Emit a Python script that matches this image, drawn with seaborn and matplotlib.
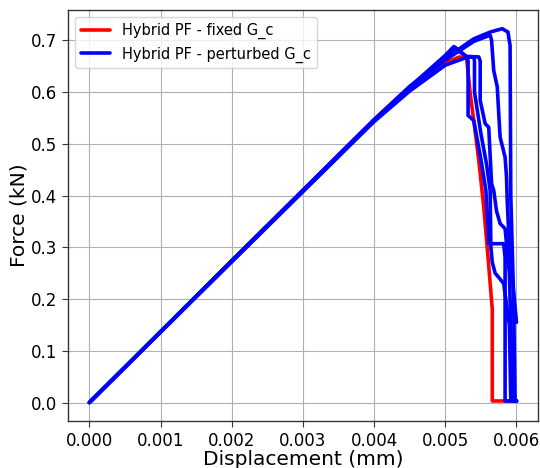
import matplotlib
matplotlib.use("Agg")
import matplotlib.pyplot as plt
import seaborn as sns
import pandas as pd

# ---- data (displacement in mm, force in kN) ----
red_x = [0, 0.002, 0.004, 0.0045, 0.005, 0.0052, 0.0053, 0.00535, 0.0054,
         0.00547, 0.00554, 0.0056, 0.00565, 0.00566, 0.00566, 0.006]
red_y = [0, 0.273, 0.545, 0.607, 0.657, 0.668, 0.665, 0.597, 0.545,
         0.468, 0.378, 0.281, 0.197, 0.18, 0.003, 0.003]

b1_x = [0, 0.002, 0.004, 0.0045, 0.005, 0.0054, 0.00563, 0.0058, 0.00588,
        0.00591, 0.00592, 0.00596, 0.00598, 0.006]
b1_y = [0, 0.274, 0.547, 0.611, 0.665, 0.703, 0.716, 0.7225, 0.716,
        0.69, 0.40, 0.20, 0.003, 0.003]

b2_x = [0, 0.002, 0.004, 0.0045, 0.005, 0.0054, 0.00563, 0.00565, 0.00568,
        0.00573, 0.00575, 0.00577, 0.00584, 0.00586, 0.00587, 0.0059, 0.006]
b2_y = [0, 0.274, 0.546, 0.609, 0.662, 0.698, 0.71, 0.70, 0.642,
        0.61, 0.56, 0.513, 0.474, 0.436, 0.39, 0.30, 0.155]

b3_x = [0, 0.002, 0.004, 0.0045, 0.005, 0.00512, 0.0052, 0.0053, 0.00532,
        0.00532, 0.0054, 0.0055, 0.00557, 0.0056, 0.00561, 0.00582, 0.00584,
        0.00584, 0.006]
b3_y = [0, 0.274, 0.546, 0.61, 0.671, 0.688, 0.68, 0.668, 0.66,
        0.555, 0.545, 0.47, 0.41, 0.34, 0.307, 0.307, 0.28,
        0.003, 0.003]

b4_x = [0, 0.002, 0.004, 0.0045, 0.005, 0.0052, 0.0053, 0.0054, 0.00541,
        0.00541, 0.0055, 0.00558, 0.00563, 0.00564, 0.00566, 0.0057, 0.00575,
        0.00582, 0.0059, 0.00592, 0.006]
b4_y = [0, 0.272, 0.543, 0.602, 0.652, 0.662, 0.667, 0.668, 0.66,
        0.60, 0.52, 0.46, 0.41, 0.30, 0.271, 0.25, 0.242,
        0.23, 0.15, 0.003, 0.003]

b5_x = [0, 0.002, 0.004, 0.0045, 0.005, 0.00514, 0.0052, 0.0053, 0.00547,
        0.00549, 0.00549, 0.00556, 0.00561, 0.00565, 0.00568, 0.00572, 0.00577,
        0.00584, 0.0059, 0.00595, 0.006]
b5_y = [0, 0.273, 0.545, 0.608, 0.666, 0.686, 0.678, 0.669, 0.668,
        0.66, 0.584, 0.539, 0.532, 0.423, 0.41, 0.37, 0.346,
        0.336, 0.25, 0.003, 0.003]

labels = ["Hybrid PF - fixed G_c", "Hybrid PF - perturbed G_c"]
colors = ["red", "blue"]

runs = [(red_x, red_y, 0), (b1_x, b1_y, 1), (b2_x, b2_y, 1),
        (b3_x, b3_y, 1), (b4_x, b4_y, 1), (b5_x, b5_y, 1)]

frames = []
for i, (xs, ys, g) in enumerate(runs):
    frames.append(pd.DataFrame({"disp": xs, "force": ys,
                                "model": labels[g], "run": i}))
df = pd.concat(frames, ignore_index=True)

plt.rcParams["font.family"] = ["DejaVu Sans"]

fig, ax = plt.subplots(figsize=(5.4, 4.68), dpi=100)
fig.subplots_adjust(left=0.126, right=0.996, top=0.979, bottom=0.1)

sns.lineplot(data=df, x="disp", y="force", hue="model", units="run",
             estimator=None, sort=False, palette=dict(zip(labels, colors)),
             linewidth=2.6, ax=ax, legend=True,
             solid_joinstyle="round", solid_capstyle="round")

ax.grid(True, color="#b0b0b0", linewidth=0.8)
ax.set_axisbelow(True)
for s in ax.spines.values():
    s.set_color("#333333")
    s.set_linewidth(1.0)
ax.tick_params(labelsize=12, direction="out", length=4, color="#333333")
ax.set_xlabel("Displacement (mm)", fontsize=14.5, labelpad=0)
ax.set_ylabel("Force (kN)", fontsize=14.5, labelpad=2)
ax.set_xticks([0, 0.001, 0.002, 0.003, 0.004, 0.005, 0.006])
ax.set_xticklabels(["0.000", "0.001", "0.002", "0.003", "0.004", "0.005", "0.006"])
ax.set_yticks([0, 0.1, 0.2, 0.3, 0.4, 0.5, 0.6, 0.7])
ax.set_xlim(-0.0003, 0.0063)
ax.set_ylim(-0.0361, 0.759)

handles, labs = ax.get_legend_handles_labels()
leg = ax.legend(handles, labs, loc="upper left", fontsize=10.5, frameon=True,
                fancybox=True, framealpha=0.8, title=None)
for h in leg.get_lines():
    h.set_linewidth(2.6)

fig.savefig("out.png", dpi=100)
